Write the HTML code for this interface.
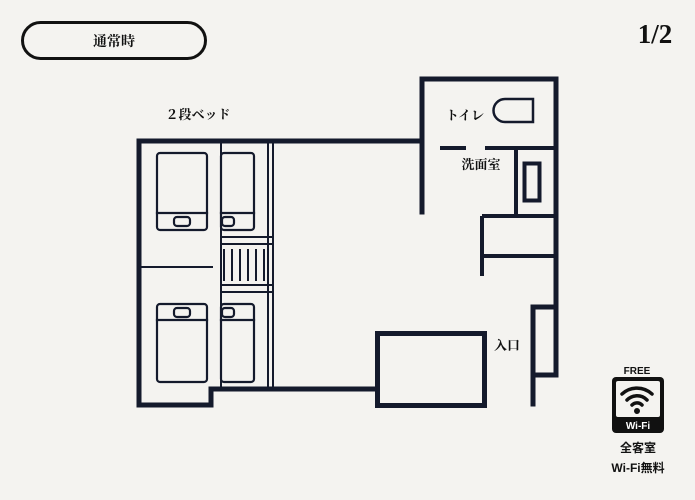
<!DOCTYPE html>
<html><head><meta charset="utf-8"><style>
html,body{margin:0;padding:0;background:#f4f3f0;}
svg{display:block}
text{font-family:"Liberation Serif","Noto Serif CJK SC",serif;fill:#111}
.s{font-family:"Liberation Sans","Noto Sans CJK JP",sans-serif;font-weight:bold}
</style></head><body>
<svg width="695" height="500" viewBox="0 0 695 500" xmlns="http://www.w3.org/2000/svg">
<rect width="695" height="500" fill="#f4f3f0"/>
<rect x="22.5" y="22.5" width="183" height="36" rx="18" fill="none" stroke="#111" stroke-width="3"/>
<text x="114" y="46" font-size="14" text-anchor="middle" font-weight="bold">通常時</text>
<text x="655" y="43" font-size="27" text-anchor="middle" font-weight="bold">1/2</text>
<text x="198" y="119" font-size="13" text-anchor="middle" font-weight="bold">２段ベッド</text>
<g fill="none" stroke="#141a2c" stroke-linecap="square">
 <path d="M422,141 L139,141 L139,405 L211,405 L211,389 L376,389" stroke-width="5"/>
 <path d="M422,212 L422,79 L556,79 L556,375 L533,375" stroke-width="5"/>
 <path d="M533,307 L556,307" stroke-width="5"/>
 <path d="M533,307 L533,404" stroke-width="5"/>
 <rect x="377.5" y="333.5" width="107" height="72" stroke-width="5"/>
 <path d="M440,148 L466,148 M485,148 L554,148" stroke-width="4" stroke-linecap="butt"/>
 <path d="M516,148 L516,216 M482,216 L554,216 M482,216 L482,276 M482,256 L554,256" stroke-width="4" stroke-linecap="butt"/>
 <rect x="524.5" y="163.5" width="15" height="37" stroke-width="4"/>
 <path d="M505,99 L533,99 L533,122 L505,122 A11.5,11.5 0 0 1 505,99 Z" stroke-width="2.5"/>
 <path d="M221,141 L221,388 M268,141 L268,388 M273,141 L273,388" stroke-width="2"/>
 <path d="M221,237 L273,237 M221,244 L273,244 M221,285 L273,285 M221,292 L273,292" stroke-width="2" stroke-linecap="butt"/>
 <path d="M224,249 V281 M232,249 V281 M240,249 V281 M248,249 V281 M256,249 V281 M264,249 V281" stroke-width="2" stroke-linecap="butt"/>
 <path d="M139,267 L212,267" stroke-width="2"/>
 <g stroke-width="2.2">
  <rect x="157" y="153" width="50" height="77" rx="3"/><path d="M157,213 H207"/><rect x="174" y="217" width="16" height="9" rx="3"/>
  <rect x="221" y="153" width="33" height="77" rx="3"/><path d="M221,213 H254"/><rect x="222" y="217" width="12" height="9" rx="3"/>
  <rect x="157" y="304" width="50" height="78" rx="3"/><path d="M157,320 H207"/><rect x="174" y="308" width="16" height="9" rx="3"/>
  <rect x="221" y="304" width="33" height="78" rx="3"/><path d="M221,320 H254"/><rect x="222" y="308" width="12" height="9" rx="3"/>
 </g>
</g>
<text x="465" y="120" font-size="13" text-anchor="middle" font-weight="bold">トイレ</text>
<text x="481" y="169" font-size="13" text-anchor="middle" font-weight="bold">洗面室</text>
<text x="507" y="350" font-size="13" text-anchor="middle" font-weight="bold">入口</text>
<text class="s" x="637" y="374" font-size="10" text-anchor="middle">FREE</text>
<rect x="612" y="377" width="52" height="56" rx="4" fill="#111"/>
<rect x="616" y="381" width="44" height="36" rx="2" fill="#f4f3f0"/>
<g fill="none" stroke="#111" stroke-width="3.5" stroke-linecap="round">
 <path d="M622,394 A22,22 0 0 1 652,394"/>
 <path d="M627,400 A14,14 0 0 1 647,400"/>
 <path d="M632,405 A7,7 0 0 1 642,405"/>
</g>
<circle cx="637" cy="411" r="3" fill="#111"/>
<text class="s" x="638" y="429" font-size="10" text-anchor="middle" style="fill:#fff">Wi-Fi</text>
<text class="s" x="638" y="452" font-size="12" text-anchor="middle">全客室</text>
<text class="s" x="638" y="472" font-size="12" text-anchor="middle">Wi-Fi無料</text>
</svg>
</body></html>
